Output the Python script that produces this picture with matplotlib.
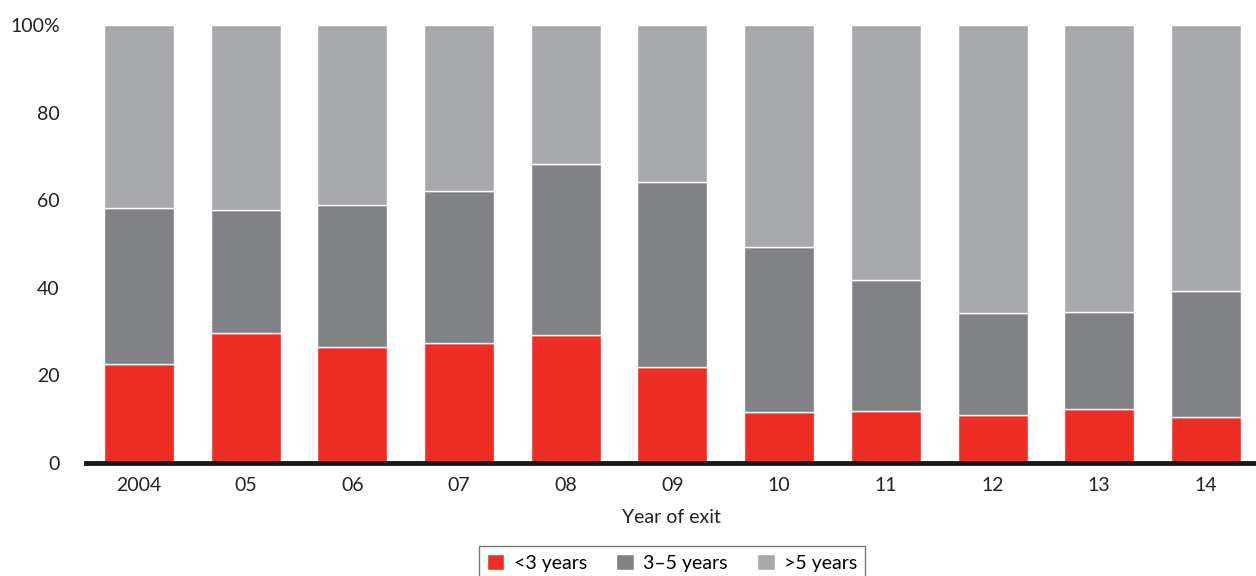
import matplotlib
matplotlib.use("Agg")
import matplotlib.pyplot as plt
import numpy as np

years = ["2004", "05", "06", "07", "08", "09", "10", "11", "12", "13", "14"]
under3 = [22.6, 29.7, 26.5, 27.4, 29.2, 21.9, 11.6, 11.9, 11.0, 12.3, 10.5]
three_to_five = [35.6, 28.1, 32.4, 34.7, 39.1, 42.3, 37.7, 29.9, 23.2, 22.2, 28.8]
over5 = [41.8, 42.2, 41.1, 37.9, 31.7, 35.8, 50.7, 58.2, 65.8, 65.5, 60.7]
series_names = ["<3 years", "3\u20135 years", ">5 years"]
colors = ["#EE2E24", "#818286", "#A8A9AD"]

plt.rcParams['font.family'] = ['Lato', 'DejaVu Sans']

fig = plt.figure(figsize=(12.56, 5.76), dpi=100)
ax = fig.add_axes([86/1256, 1-463/576, 1-86/1256, (463-25)/576])

x = np.arange(len(years))
bottom = np.zeros(len(years))
handles = []
for vals, name, c in zip([under3, three_to_five, over5], series_names, colors):
    b = ax.bar(x, vals, width=0.656, bottom=bottom, color=c, edgecolor="white",
               linewidth=1, label=name)
    handles.append(b)
    bottom += np.array(vals)

ax.set_xlim(-0.497, 10.469)
ax.set_ylim(0, 100)
ax.set_yticks([0, 20, 40, 60, 80, 100])
ax.set_yticklabels(["0", "20", "40", "60", "80", "100%"])
ax.set_xticks(x)
ax.set_xticklabels(years)
ax.tick_params(axis="both", length=0, labelsize=14, colors="#222222")
ax.tick_params(axis="y", pad=19)
ax.tick_params(axis="x", pad=10)
for s in ["top", "right", "left"]:
    ax.spines[s].set_visible(False)
ax.spines["bottom"].set_linewidth(3.5)
ax.spines["bottom"].set_color("#1a1a1a")
ax.set_xlabel("Year of exit", fontsize=14, color="#222222", labelpad=11)

leg = fig.legend(handles=handles, labels=series_names, loc="upper center",
                 bbox_to_anchor=(672/1256, 1-546/576), ncol=3, frameon=True,
                 fancybox=False, edgecolor="#555555", fontsize=14,
                 handlelength=0.9, handleheight=0.9, columnspacing=1.5,
                 handletextpad=0.5, borderpad=0.4, borderaxespad=0)
leg.get_frame().set_linewidth(1.0)

fig.savefig("out.png", dpi=100)
